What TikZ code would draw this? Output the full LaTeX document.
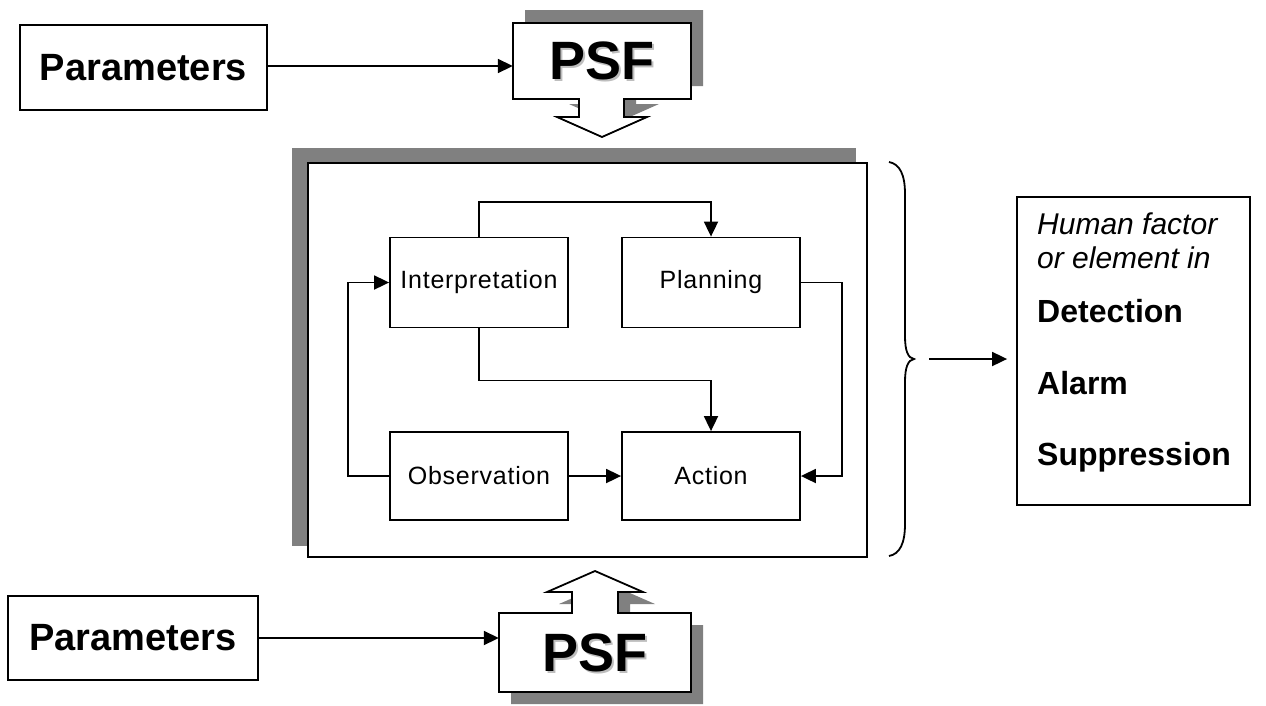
\documentclass[tikz,border=0pt]{standalone}
\usepackage{fontspec}
\setmainfont{Liberation Sans}
\usetikzlibrary{arrows.meta,calc,backgrounds}
\definecolor{shadowgray}{RGB}{128,128,128}
\definecolor{textshade}{RGB}{190,190,190}
\tikzset{
  box/.style={draw, line width=1.8pt, fill=white, inner sep=0pt},
  stepbox/.style={box, minimum width=178pt, minimum height=90pt,
    font=\fontsize{25}{29}\selectfont\addfontfeature{LetterSpace=3}},
  parbox/.style={box, font=\bfseries\fontsize{38}{42}\selectfont},
  psftext/.style={inner sep=0pt, font=\bfseries\fontsize{54}{58}\selectfont},
  wire/.style={line width=1.8pt},
  arr/.style={line width=1.8pt, -{Triangle[length=15pt,width=14pt]}},
  shade/.style={fill=shadowgray},
  outline/.style={draw, line width=1.8pt, fill=white, line join=miter},
}
\begin{document}
\begin{tikzpicture}[x=1pt,y=-1pt]
\useasboundingbox (0,0) rectangle (1266,705);

% ---------- upper PSF block with its downward block arrow ----------
\def\psfupper{(513,23) -- (691,23) -- (691,99) -- (624,99) -- (624,117) -- (647,117)
  -- (602,137) -- (557,117) -- (579,117) -- (579,99) -- (513,99) -- cycle}
\fill[shade, shift={(12,-13)}] \psfupper;
\path[outline] \psfupper;
\node[psftext, minimum width=178pt, minimum height=76pt] (psf1) at (602,61) {};
\node[psftext, text=textshade] at ($(psf1)+(2,2)$) {PSF};
\node[psftext] at (psf1) {PSF};

% ---------- lower PSF block with its upward block arrow ----------
\def\psflower{(499,613) -- (572,613) -- (572,592) -- (547,592) -- (595,571) -- (643,592)
  -- (618,592) -- (618,613) -- (691,613) -- (691,692) -- (499,692) -- cycle}
\fill[shade, shift={(12,12)}] \psflower;
\path[outline] \psflower;
\node[psftext, minimum width=192pt, minimum height=79pt] (psf2) at (595,652.5) {};
\node[psftext, text=textshade] at ($(psf2)+(2,2)$) {PSF};
\node[psftext] at (psf2) {PSF};

% ---------- parameter boxes ----------
\node[parbox, minimum width=247pt, minimum height=85pt] (par1) at (143.5,67.5) {Parameters};
\node[parbox, minimum width=250pt, minimum height=84pt] (par2) at (133,638) {Parameters};
\draw[arr] (par1.east |- 0,66) -- (psf1.west |- 0,66);
\draw[arr] (par2.east |- 0,638) -- (psf2.west |- 0,638);

% ---------- central frame ----------
\node[box, minimum width=559pt, minimum height=394pt] (main) at (587.5,360) {};
\begin{scope}[on background layer]
  \fill[shade] ($(main.north west)+(-15,-14)$) rectangle ($(main.south east)+(-12,-12)$);
\end{scope}

\node[stepbox] (interp) at (479,282.5) {Interpretation};
\node[stepbox] (plan)   at (711,282.5) {Planning};
\node[stepbox, minimum height=88pt] (obs) at (479,476) {Observation};
\node[stepbox, minimum height=88pt] (act) at (711,476) {Action};

\draw[arr] (interp.north) -- ++(0,-35) -| (plan.north);
\draw[arr] (interp.south) -- ++(0,52) -| (act.north);
\draw[arr] (plan.east) -- ++(41,0) |- (act.east);
\draw[arr] (obs.west) -- ++(-41,0) |- (interp.west);
\draw[arr] (obs.east) -- (act.west);

% ---------- brace and result box ----------
\draw[wire] (889,162) .. controls (900,164) and (905,175) .. (905,194)
  -- (905,336) .. controls (905,351) and (908,358) .. (914,359)
  .. controls (908,360) and (905,367) .. (905,382)
  -- (905,524) .. controls (905,543) and (900,554) .. (889,556);
\coordinate (bt) at (914,359);

\node[box, minimum width=233pt, minimum height=308pt] (hf) at (1133.5,351) {};
\draw[arr, shorten <=15pt, shorten >=9pt] (bt) -- (bt -| hf.west);

\begin{scope}[every node/.style={anchor=base west, inner sep=0pt}]
  \node[font=\itshape\fontsize{30}{34}\selectfont] (hf1) at (1037,234) {Human factor};
  \node[font=\itshape\fontsize{30}{34}\selectfont] (hf2) at (1037,268) {or element in};
  \node[font=\bfseries\fontsize{32}{36}\selectfont] (hf3) at (1037,322) {Detection};
  \node[font=\bfseries\fontsize{32}{36}\selectfont] (hf4) at (1037,394) {Alarm};
  \node[font=\bfseries\fontsize{32}{36}\selectfont] (hf5) at (1037,465) {Suppression};
\end{scope}
\end{tikzpicture}
\end{document}
